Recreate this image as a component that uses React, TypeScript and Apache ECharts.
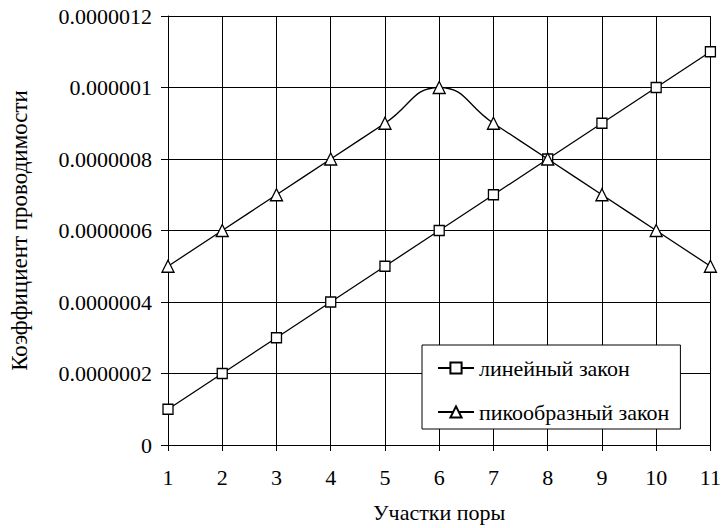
import React, { useEffect, useRef } from "react";
import * as echarts from "echarts";

const categories = ["1", "2", "3", "4", "5", "6", "7", "8", "9", "10", "11"];
const linearValues = [1e-7, 2e-7, 3e-7, 4e-7, 5e-7, 6e-7, 7e-7, 8e-7, 9e-7, 1e-6, 1.1e-6];
const peakValues = [5e-7, 6e-7, 7e-7, 8e-7, 9e-7, 1e-6, 9e-7, 8e-7, 7e-7, 6e-7, 5e-7];
const yTickLabels = ["0", "0.0000002", "0.0000004", "0.0000006", "0.0000008", "0.000001", "0.0000012"];
const seriesNames = ["линейный закон", "пикообразный закон"];
const xAxisName = "Участки поры";
const yAxisName = "Коэффициент проводимости";

const FONT = "Liberation Serif";

export default function App() {
  const ref = useRef<HTMLDivElement>(null);
  useEffect(() => {
    if (!ref.current) return;
    const chart = echarts.init(ref.current, null, { renderer: "svg" });
    chart.setOption({
      animation: false,
      backgroundColor: "#fff",
      grid: { left: 164, top: 16, right: 11, bottom: 82, containLabel: false },
      legend: {
        orient: "vertical",
        left: 422,
        top: 345,
        backgroundColor: "#fff",
        borderColor: "#000",
        borderWidth: 1,
        padding: [12, 11, 6, 15],
        itemGap: 22,
        itemWidth: 36,
        itemHeight: 14,
        textStyle: { fontFamily: FONT, fontSize: 22, lineHeight: 22, color: "#000" },
        data: seriesNames,
      },
      xAxis: {
        type: "category",
        data: categories,
        boundaryGap: false,
        name: xAxisName,
        nameLocation: "middle",
        nameGap: 56,
        nameTextStyle: { fontFamily: FONT, fontSize: 22, color: "#000" },
        axisLine: { lineStyle: { color: "#000", width: 1 } },
        axisTick: { show: true, length: 6, lineStyle: { color: "#000" }, alignWithLabel: true },
        axisLabel: { fontFamily: FONT, fontSize: 22, color: "#000", margin: 21 },
        splitLine: { show: true, lineStyle: { color: "#000", width: 1 } },
      },
      yAxis: {
        type: "value",
        min: 0,
        max: 1.2e-6,
        interval: 2e-7,
        name: yAxisName,
        nameLocation: "middle",
        nameGap: 137,
        nameRotate: 90,
        nameTextStyle: { fontFamily: FONT, fontSize: 23, color: "#000" },
        axisLine: { show: true, lineStyle: { color: "#000", width: 1 } },
        axisTick: { show: true, length: 7, lineStyle: { color: "#000" } },
        axisLabel: {
          fontFamily: FONT,
          fontSize: 22,
          color: "#000",
          margin: 16,
          formatter: (v: number) => yTickLabels[Math.round(v / 2e-7)] ?? "",
        },
        splitLine: { show: true, lineStyle: { color: "#000", width: 1 } },
      },
      series: [
        {
          name: seriesNames[0],
          type: "line",
          data: linearValues,
          symbol: "rect",
          symbolSize: 10,
          lineStyle: { color: "#000", width: 1.3 },
          itemStyle: { color: "#fff", borderColor: "#000", borderWidth: 1.3 },
          z: 3,
        },
        {
          name: seriesNames[1],
          type: "line",
          data: peakValues,
          smooth: 0.5,
          symbol: "triangle",
          symbolSize: 12,
          lineStyle: { color: "#000", width: 1.3 },
          itemStyle: { color: "#fff", borderColor: "#000", borderWidth: 1.3 },
          z: 4,
        },
      ],
    });
    return () => chart.dispose();
  }, []);
  return <div ref={ref} style={{ width: 724, height: 528, position: "absolute", left: 0, top: 0 }} />;
}
